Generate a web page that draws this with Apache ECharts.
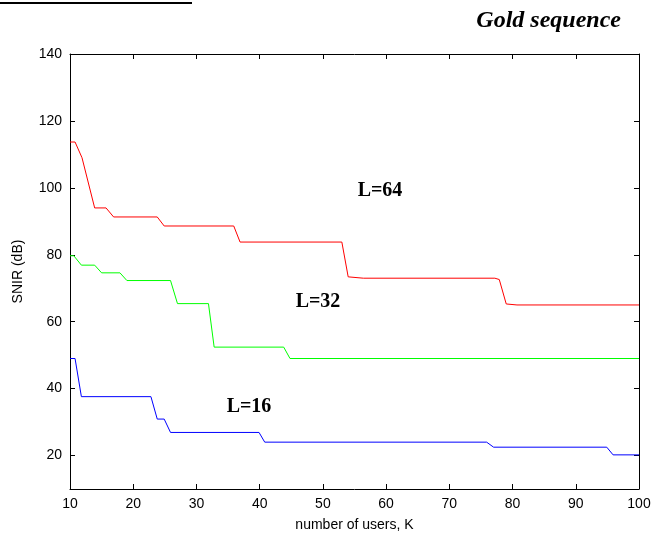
<!DOCTYPE html>
<html><head><meta charset="utf-8">
<script src="https://cdn.jsdelivr.net/npm/echarts@6/dist/echarts.min.js"></script>
<style>html,body{margin:0;padding:0;background:#fff}#c{width:654px;height:537px}</style>
</head><body><div id="c"></div>
<script>
// Data
const xTicks = [10,20,30,40,50,60,70,80,90,100];
const yTicks = [20,40,60,80,100,120,140];
const kL64 = [10,10.8,11.9,13.9,15.7,16.9,23.8,24.9,35.9,36.9,53.0,54.0,56.4,77.2,77.9,79.0,80.7,100];
const vL64 = [113.7,113.7,109.0,94.0,94.0,91.3,91.3,88.6,88.6,83.8,83.8,73.4,73.0,73.0,72.6,65.3,65.0,65.0];
const kL32 = [10,10.6,11.8,13.9,15.0,17.9,19.0,25.9,27.0,31.9,32.8,43.8,44.8,100];
const vL32 = [79.7,79.7,76.9,76.9,74.6,74.6,72.3,72.3,65.4,65.4,52.4,52.4,49.0,49.0];
const kL16 = [10,10.8,11.8,22.8,23.8,24.9,25.9,39.9,40.8,75.9,77.0,94.9,95.9,100];
const vL16 = [49.0,49.0,37.6,37.6,30.9,30.9,26.9,26.9,24.0,24.0,22.5,22.5,20.2,20.2];
const labels = ['L=64','L=32','L=16'];
const title = 'Gold sequence';

const pairs = (k, v) => k.map((x, i) => [x, v[i]]);
const chart = echarts.init(document.getElementById('c'), null, {renderer: 'canvas'});
const axCol = '#000';
const lab = {color:'#000', fontFamily:'Liberation Sans, Arial, sans-serif', fontSize:14};
const serifBold = 'bold 20px "Liberation Serif", "Times New Roman", serif';
chart.setOption({
  animation: false,
  backgroundColor: '#fff',
  grid: {left:70, right:15, top:54, bottom:45, containLabel:false},
  xAxis: [
    {type:'value', min:10, max:100, interval:10, position:'bottom',
     name:'number of users, K', nameLocation:'middle', nameGap:29,
     nameTextStyle:{...lab},
     axisLine:{show:true, lineStyle:{color:axCol, width:1}},
     axisTick:{show:true, inside:true, length:5, lineStyle:{color:axCol}},
     axisLabel:{...lab, margin:8},
     splitLine:{show:false}},
    {type:'value', min:10, max:100, interval:10, position:'top',
     axisLine:{show:true, onZero:false, lineStyle:{color:axCol, width:1}},
     axisTick:{show:true, inside:true, length:5, lineStyle:{color:axCol}},
     axisLabel:{show:false}, splitLine:{show:false}}
  ],
  yAxis: [
    {type:'value', min:10, max:140, position:'left',
     name:'SNIR (dB)', nameLocation:'middle', nameGap:45, nameRotate:90,
     nameTextStyle:{...lab},
     axisLine:{show:true, onZero:false, lineStyle:{color:axCol, width:1}},
     axisTick:{show:true, inside:true, length:5, customValues: yTicks, lineStyle:{color:axCol}},
     axisLabel:{...lab, margin:8, customValues: yTicks},
     splitLine:{show:false}},
    {type:'value', min:10, max:140, position:'right',
     axisLine:{show:true, onZero:false, lineStyle:{color:axCol, width:1}},
     axisTick:{show:true, inside:true, length:5, customValues: yTicks, lineStyle:{color:axCol}},
     axisLabel:{show:false, customValues: yTicks}, splitLine:{show:false}}
  ],
  series: [
    {type:'line', data:pairs(kL64, vL64), showSymbol:false, lineStyle:{color:'#ff0000', width:1}, itemStyle:{color:'#ff0000'}},
    {type:'line', data:pairs(kL32, vL32), showSymbol:false, lineStyle:{color:'#00ff00', width:1}, itemStyle:{color:'#00ff00'}},
    {type:'line', data:pairs(kL16, vL16), showSymbol:false, lineStyle:{color:'#0000ff', width:1}, itemStyle:{color:'#0000ff'}}
  ],
  graphic: [
    {type:'line', shape:{x1:0, y1:3, x2:192, y2:3}, style:{stroke:'#000', lineWidth:2}},
    {type:'text', x:621, y:21, style:{text:title, font:'italic bold 24px "Liberation Serif", "Times New Roman", serif', fill:'#000', textAlign:'right', textVerticalAlign:'middle'}},
    {type:'text', x:380, y:191, style:{text:labels[0], font:serifBold, fill:'#000', textAlign:'center', textVerticalAlign:'middle'}},
    {type:'text', x:318, y:302, style:{text:labels[1], font:serifBold, fill:'#000', textAlign:'center', textVerticalAlign:'middle'}},
    {type:'text', x:249, y:407, style:{text:labels[2], font:serifBold, fill:'#000', textAlign:'center', textVerticalAlign:'middle'}}
  ]
});
</script></body></html>
